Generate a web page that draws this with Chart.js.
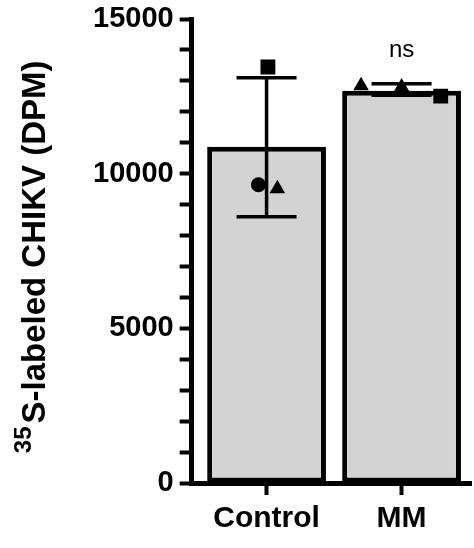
<!DOCTYPE html>
<html>
<head>
<meta charset="utf-8">
<script src="https://cdn.jsdelivr.net/npm/chart.js@4/dist/chart.umd.min.js"></script>
<style>
  body { margin: 0; background: #fff; overflow: hidden; }
</style>
</head>
<body>
<canvas id="barChart" width="482" height="548"></canvas>
<script>
// DATA
const categories = ["Control", "MM"];
const barMeans = [10870, 12680];
const errLow = [8610, 12540];
const errHigh = [13100, 12910];
const circleVals = [9645, null];
const triangleVals = [9516, 12800];
const triangle2Vals = [null, 12840];
const squareVals = [13450, 12510];
const yTicks = [0, 5000, 10000, 15000];
const sigLabels = ["", "ns"];

// horizontal jitter of the dots (in category units)
const jitter = { circle: -0.06, triangle: 0.08, triangle2: -0.3, square: 0.29 };
const jitterCtl = { square: 0.01 };

const FONT = "'Liberation Sans', Arial, sans-serif";

function pts(vals, dx, dx0) {
    return vals.map((v, i) => v == null ? null : { x: i + (i === 0 && dx0 != null ? dx0 : dx), y: v }).filter(p => p);
}

const dotStyle = { type: "scatter", backgroundColor: "#000", borderColor: "#000", pointRadius: 7.5, pointBorderWidth: 0, order: 1 };

// error bars + "ns" + y axis title
const extras = {
    id: "extras",
    afterDatasetDraw(chart, args) {
        if (args.index !== 0) return;
        const ctx = chart.ctx, x = chart.scales.x, y = chart.scales.y;
        ctx.save();
        ctx.strokeStyle = "#000";
        ctx.lineWidth = 3.5;
        barMeans.forEach((m, i) => {
            const cx = x.getPixelForValue(i);
            const hw = 30;
            ctx.beginPath();
            ctx.moveTo(cx, y.getPixelForValue(errLow[i]));
            ctx.lineTo(cx, y.getPixelForValue(errHigh[i]));
            ctx.moveTo(cx - hw, y.getPixelForValue(errLow[i]));
            ctx.lineTo(cx + hw, y.getPixelForValue(errLow[i]));
            ctx.moveTo(cx - hw, y.getPixelForValue(errHigh[i]));
            ctx.lineTo(cx + hw, y.getPixelForValue(errHigh[i]));
            ctx.stroke();
        });
        ctx.restore();
    },
    afterDraw(chart) {
        const ctx = chart.ctx, x = chart.scales.x, y = chart.scales.y;
        ctx.save();
        ctx.fillStyle = "#000";
        ctx.font = "24px " + FONT;
        ctx.textAlign = "center";
        ctx.textBaseline = "alphabetic";
        sigLabels.forEach((s, i) => {
            if (s) ctx.fillText(s, x.getPixelForValue(i), y.getPixelForValue(errHigh[i]) - 27);
        });
        // rotated axis title with superscript
        ctx.translate(45, 242);
        ctx.rotate(-Math.PI / 2);
        ctx.textAlign = "left";
        const main = "S-labeled CHIKV (DPM)";
        ctx.font = "bold 33px " + FONT;
        const wMain = ctx.measureText(main).width;
        const start = -wMain / 2;
        ctx.font = "bold 24px " + FONT;
        const wSup = ctx.measureText("35").width;
        ctx.fillText("35", start - wSup - 3, -14);
        ctx.font = "bold 33px " + FONT;
        ctx.fillText(main, start, 0);
        ctx.restore();
    }
};

new Chart(document.getElementById("barChart"), {
    type: "bar",
    data: {
        datasets: [
            {
                type: "bar",
                data: barMeans.map((v, i) => ({ x: i, y: v })),
                backgroundColor: "#d3d3d3",
                borderColor: "#000",
                borderWidth: 5,
                borderSkipped: false,
                grouped: false,
                barPercentage: 0.88,
                categoryPercentage: 1,
                order: 2
            },
            { ...dotStyle, data: pts(circleVals, 0, jitter.circle), pointStyle: "circle" },
            { ...dotStyle, data: pts(triangleVals, 0, jitter.triangle), pointStyle: "triangle", pointRadius: 9 },
            { ...dotStyle, data: pts(triangle2Vals, jitter.triangle2), pointStyle: "triangle", pointRadius: 9 },
            { ...dotStyle, data: pts(squareVals, jitter.square, jitterCtl.square), pointStyle: "rect", pointRadius: 10.5 }
        ]
    },
    options: {
        responsive: false,
        animation: false,
        layout: { padding: { left: 87, right: 0, top: 0, bottom: 5 } },
        plugins: { legend: { display: false }, tooltip: { enabled: false } },
        scales: {
            x: {
                type: "linear",
                min: -0.555,
                max: 1.518,
                offset: false,
                afterBuildTicks: s => { s.ticks = categories.map((c, i) => ({ value: i })); },
                ticks: {
                    callback: v => categories[v],
                    color: "#000",
                    font: { family: FONT, size: 30, weight: "bold" },
                    padding: 6
                },
                grid: { offset: false, drawOnChartArea: false, tickLength: 12, tickWidth: 4, color: "#000" },
                border: { color: "#000", width: 5 }
            },
            y: {
                min: 0,
                max: 15000,
                afterBuildTicks: s => {
                    const t = [];
                    for (let v = 0; v <= 15000; v += 1000) t.push({ value: v });
                    s.ticks = t;
                },
                ticks: {
                    callback: v => yTicks.includes(v) ? String(v) : "",
                    color: "#000",
                    font: { family: FONT, size: 29, weight: "bold", lineHeight: 0.9 },
                    padding: 6,
                    autoSkip: false
                },
                grid: { drawOnChartArea: false, tickLength: 12, tickWidth: 4, color: "#000" },
                border: { color: "#000", width: 5 }
            }
        }
    },
    plugins: [extras]
});
</script>
</body>
</html>
